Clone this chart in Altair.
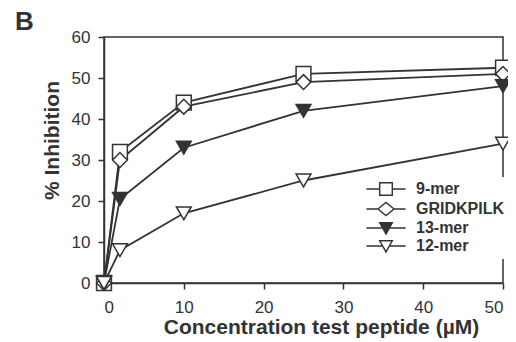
import altair as alt
import pandas as pd

# ---- data ----
conc = [0, 2, 10, 25, 50]
series_names = ["9-mer", "GRIDKPILK", "13-mer", "12-mer"]
inh_9mer = [0, 32, 44, 51, 52.5]
inh_gridkpilk = [0, 30, 43, 49, 51]
inh_13mer = [0, 20.5, 33, 42, 48]
inh_12mer = [0, 8, 17, 25, 34]
x_ticks = [0, 10, 20, 30, 40, 50]
y_ticks = [0, 10, 20, 30, 40, 50, 60]

values = [inh_9mer, inh_gridkpilk, inh_13mer, inh_12mer]
rows = []
for name, vals in zip(series_names, values):
    for c, v in zip(conc, vals):
        rows.append({"series": name, "conc": c, "inh": v})
df = pd.DataFrame(rows)

INK = "#333333"
FONT = "Liberation Sans"

marker_shapes = ["square", "diamond", "triangle-down", "triangle-down"]
marker_fills = ["white", "white", INK, "white"]
marker_strokes = [INK, INK, INK, INK]

legend_shapes = [
    "M-2.8,0H-0.9M0.9,0H2.8M-0.9,-0.9H0.9V0.9H-0.9Z",
    "M-2.8,0H-1.15M1.15,0H2.8M-1.15,0L0,-0.95L1.15,0L0,0.95Z",
    "M-2.8,0H-0.5M0.5,0H2.8M-0.9,-0.75H0.9L0,0.85Z",
    "M-2.8,0H-0.5M0.5,0H2.8M-0.9,-0.75H0.9L0,0.85Z",
]

x_enc = alt.X("conc:Q", scale=alt.Scale(domain=[0, 50], nice=False),
              axis=alt.Axis(values=x_ticks, title="Concentration test peptide (µM)",
                            labelPadding=10,
                            titleX=217, titleY=50, titleBaseline="alphabetic",
                            titleAlign="center"))
y_enc = alt.Y("inh:Q", scale=alt.Scale(domain=[0, 60], nice=False),
              axis=alt.Axis(values=y_ticks, title="% Inhibition", labelPadding=8,
                            titleAngle=-90, titleX=-46, titleY=103,
                            titleBaseline="alphabetic", titleAlign="center"))

base = alt.Chart(df)

lines = base.mark_line(color=INK, strokeWidth=1.8).encode(
    x=x_enc, y=y_enc, detail="series:N", order="conc:Q"
)

points = base.mark_point(filled=False, stroke=INK, strokeWidth=1.5, opacity=1).encode(
    x=x_enc, y=y_enc,
    shape=alt.Shape("series:N", scale=alt.Scale(domain=series_names, range=marker_shapes), legend=None),
    fill=alt.Fill("series:N", scale=alt.Scale(domain=series_names, range=marker_fills), legend=None),
    size=alt.value(220),
)

leg = alt.Legend(title=None, orient="none", legendX=270, legendY=140)
legend_layer = base.mark_point(strokeWidth=1.4, opacity=0, size=196).encode(
    x=x_enc, y=y_enc,
    shape=alt.Shape("series:N", scale=alt.Scale(domain=series_names, range=legend_shapes), legend=leg),
    fill=alt.Fill("series:N", scale=alt.Scale(domain=series_names, range=marker_fills), legend=leg),
    stroke=alt.Stroke("series:N", scale=alt.Scale(domain=series_names, range=marker_strokes), legend=leg),
)

chart = alt.layer(lines, points, legend_layer).resolve_scale(
    shape="independent", fill="independent", stroke="independent"
).properties(
    width=399, height=246,
    autosize=alt.AutoSizeParams(type="none"),
    padding={"left": 96, "top": 29, "right": 5, "bottom": 56},
    title=alt.TitleParams("B", anchor="start", dx=-89, dy=14, offset=7, fontSize=26,
                          font=FONT, fontWeight="bold", color=INK, frame="group"),
).configure_view(
    stroke=INK, strokeWidth=1.5
).configure_axis(
    grid=False, domainColor=INK, domainWidth=1.5, tickColor=INK, tickWidth=1.5,
    tickSize=6, labelColor=INK, labelFont=FONT, labelFontSize=17,
    titleColor=INK, titleFont=FONT, titleFontSize=21, titleFontWeight="bold",
).configure_legend(
    labelFont=FONT, labelFontSize=16, labelFontWeight="bold", labelColor=INK,
    symbolStrokeColor=INK, symbolStrokeWidth=1.4, symbolSize=196, symbolOpacity=1,
    labelOffset=22, rowPadding=0, fillColor="white", padding=4,
)

chart.save("out.html", embed_options={"renderer": "svg", "actions": False})
